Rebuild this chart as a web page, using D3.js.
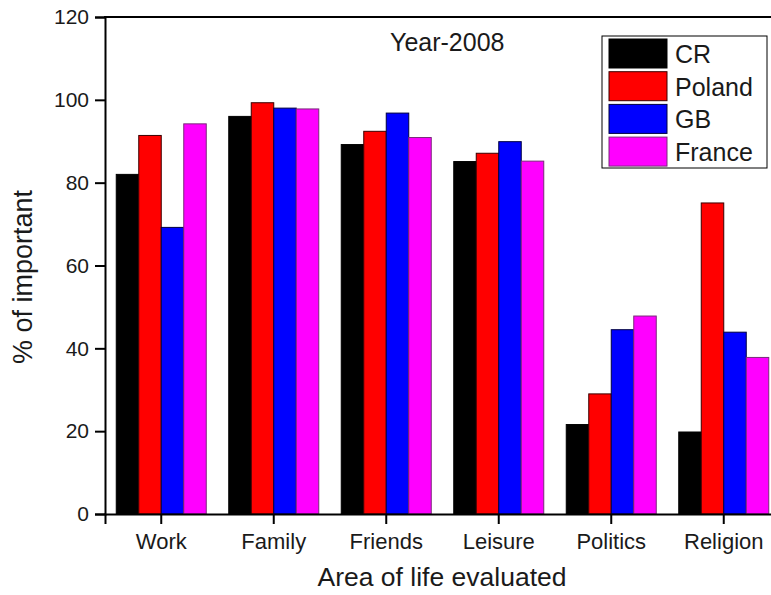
<!DOCTYPE html>
<html>
<head>
<meta charset="utf-8">
<script src="https://cdn.jsdelivr.net/npm/d3@7"></script>
<style>
  html, body { margin: 0; padding: 0; background: #fff; overflow: hidden; }
  svg { display: block; font-family: "Liberation Sans", Arial, sans-serif; }
</style>
</head>
<body>
<svg id="chart" width="771" height="595"></svg>
<script>
// Share of respondents rating each area of life as important, 2008
const categories = ["Work", "Family", "Friends", "Leisure", "Politics", "Religion"];
const seriesNames = ["CR", "Poland", "GB", "France"];
const crValues     = [82.0, 96.0, 89.2, 85.1, 21.6, 19.8];
const polandValues = [91.4, 99.3, 92.4, 87.1, 29.0, 75.1];
const gbValues     = [69.2, 98.0, 96.8, 89.9, 44.5, 43.9];
const franceValues = [94.2, 97.8, 90.9, 85.2, 47.8, 37.8];
const yTicks = [0, 20, 40, 60, 80, 100, 120];

const seriesValues = [crValues, polandValues, gbValues, franceValues];
const fills   = ["#000000", "#ff0000", "#0000ff", "#ff00ff"];
const strokes = ["#000000", "#3a0000", "#000040", "#7a2a7a"];

const svg = d3.select("#chart");

// Plot frame: the x range runs slightly past the right edge of the page
const plotLeft = 105, plotTop = 17, plotBottom = 514, plotRight = 780;

const x = d3.scaleBand().domain(categories).range([plotLeft, plotRight]).paddingInner(0).paddingOuter(0);
const xInner = d3.scaleBand().domain(seriesNames).range([0, x.bandwidth()]).paddingOuter(0.5).paddingInner(0);
const y = d3.scaleLinear().domain([0, 120]).range([plotBottom, plotTop]);

// Bars
const rows = categories.map((c, i) => ({ cat: c, vals: seriesNames.map((s, j) => ({ s, j, v: seriesValues[j][i] })) }));
const groups = svg.append("g").selectAll("g").data(rows).join("g")
  .attr("transform", d => `translate(${x(d.cat)},0)`);
groups.selectAll("rect").data(d => d.vals).join("rect")
  .attr("x", d => xInner(d.s))
  .attr("width", xInner.bandwidth())
  .attr("y", d => y(d.v))
  .attr("height", d => y(0) - y(d.v))
  .attr("fill", d => fills[d.j])
  .attr("stroke", d => strokes[d.j])
  .attr("stroke-width", 1);

// Axes
const yAxis = svg.append("g")
  .attr("transform", `translate(${plotLeft},0)`)
  .call(d3.axisLeft(y).tickValues(yTicks).tickSize(10).tickPadding(6));
const xAxis = svg.append("g")
  .attr("transform", `translate(0,${plotBottom})`)
  .call(d3.axisBottom(x).tickSize(10).tickPadding(9));
[yAxis, xAxis].forEach(a => {
  a.select(".domain").attr("stroke", "#000").attr("stroke-width", 2);
  a.selectAll(".tick line").attr("stroke", "#000").attr("stroke-width", 2);
  a.selectAll(".tick text").attr("fill", "#1a1a1a").style("font-size", "21px")
    .style("font-family", "'Liberation Sans', Arial, sans-serif");
});
xAxis.selectAll(".tick text").style("font-size", "22px");
// Top frame line
svg.append("line")
  .attr("x1", plotLeft - 1).attr("x2", plotRight).attr("y1", plotTop).attr("y2", plotTop)
  .attr("stroke", "#000").attr("stroke-width", 2);

// Axis titles
svg.append("text")
  .attr("x", 442).attr("y", 586)
  .attr("text-anchor", "middle")
  .attr("fill", "#1a1a1a")
  .style("font-size", "26.5px")
  .text("Area of life evaluated");
svg.append("text")
  .attr("transform", "translate(32,277) rotate(-90)")
  .attr("text-anchor", "middle")
  .attr("fill", "#1a1a1a")
  .style("font-size", "27px")
  .text("% of important");

// Chart title
svg.append("text")
  .attr("x", 390).attr("y", 51)
  .attr("fill", "#1a1a1a")
  .style("font-size", "25px")
  .text("Year-2008");

// Legend
const legend = svg.append("g");
legend.append("rect")
  .attr("x", 602).attr("y", 36).attr("width", 165).attr("height", 132)
  .attr("fill", "#fff").attr("stroke", "#000").attr("stroke-width", 1);
const items = legend.selectAll("g.item").data(seriesNames).join("g")
  .attr("class", "item")
  .attr("transform", (d, i) => `translate(609,${39 + i * 32.7})`);
items.append("rect")
  .attr("width", 58).attr("height", 29)
  .attr("fill", (d, i) => fills[i])
  .attr("stroke", (d, i) => strokes[i])
  .attr("stroke-width", 1);
items.append("text")
  .attr("x", 66).attr("y", 24)
  .attr("fill", "#1a1a1a")
  .style("font-size", "25px")
  .text(d => d);
</script>
</body>
</html>
